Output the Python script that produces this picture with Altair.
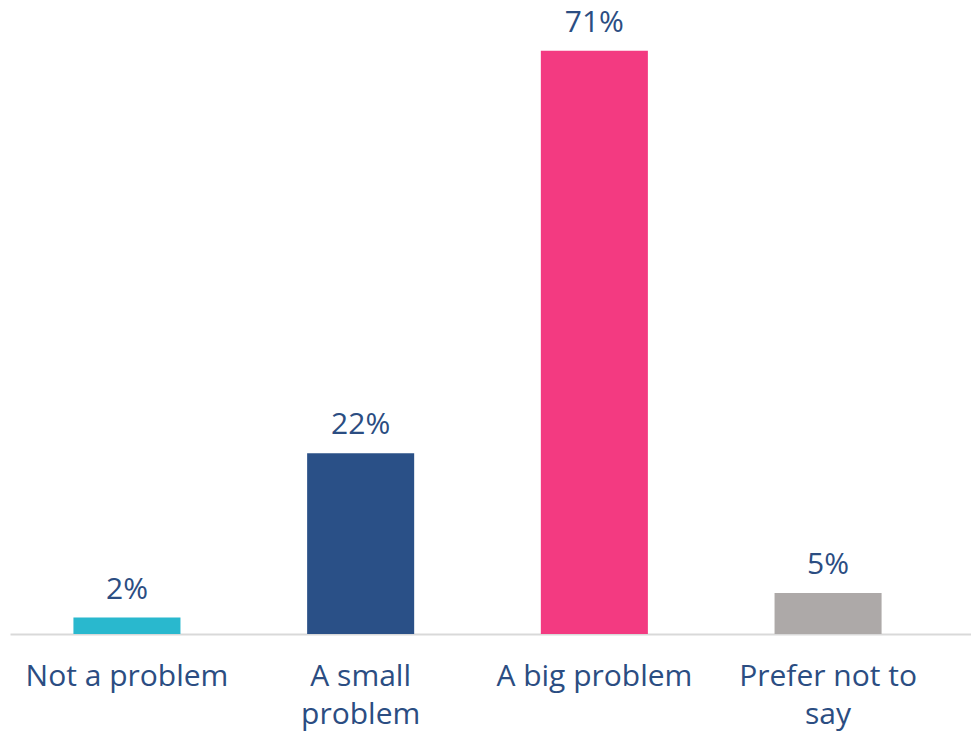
import altair as alt
import pandas as pd

categories = ["Not a problem", "A small problem", "A big problem", "Prefer not to say"]
label_lines = [["Not a problem"], ["A small", "problem"], ["A big problem"], ["Prefer not to", "say"]]
values = [2, 22, 71, 5]
colors = ["#29B8CE", "#2A5087", "#F33A81", "#ADA9A8"]

df = pd.DataFrame({
    "cat": categories,
    "value": values,
    "label": [f"{v}%" for v in values],
})

parts = []
for c, lines in zip(categories, label_lines):
    arr = "[" + ",".join("'" + l + "'" for l in lines) + "]"
    parts.append(f"datum.label == '{c}' ? {arr} : ")
label_expr = "".join(parts) + "datum.label"

text_color = "#2B4D82"
font = "Open Sans"

x = alt.X(
    "cat:N",
    sort=categories,
    scale=alt.Scale(paddingInner=0.542, paddingOuter=0.327, align=0.415),
    axis=alt.Axis(
        title=None,
        labelAngle=0,
        labelFont=font,
        labelFontSize=30,
        labelColor=text_color,
        labelPadding=27,
        labelLineHeight=38,
        labelExpr=label_expr,
        ticks=False,
        domainColor="#D9D9D9",
        domainWidth=2,
        labelLimit=400,
    ),
)

y = alt.Y(
    "value:Q",
    scale=alt.Scale(domain=[0, 75], nice=False),
    axis=None,
)

bars = alt.Chart(df).mark_bar().encode(
    x=x,
    y=y,
    color=alt.Color("cat:N", scale=alt.Scale(domain=categories, range=colors), legend=None),
)

text = alt.Chart(df).mark_text(
    baseline="alphabetic", dy=-19, font=font, fontSize=30, color=text_color
).encode(
    x=alt.X("cat:N", sort=categories),
    y=alt.Y("value:Q"),
    text="label:N",
)

chart = (bars + text).properties(
    width=961,
    height=616,
    autosize=alt.AutoSizeParams(type="none"),
    padding={"left": 10, "top": 18, "right": 0, "bottom": 97},
).configure(background="white").configure_view(stroke=None, strokeWidth=0)

chart.save("out.html", embed_options={"renderer": "svg", "actions": False})
